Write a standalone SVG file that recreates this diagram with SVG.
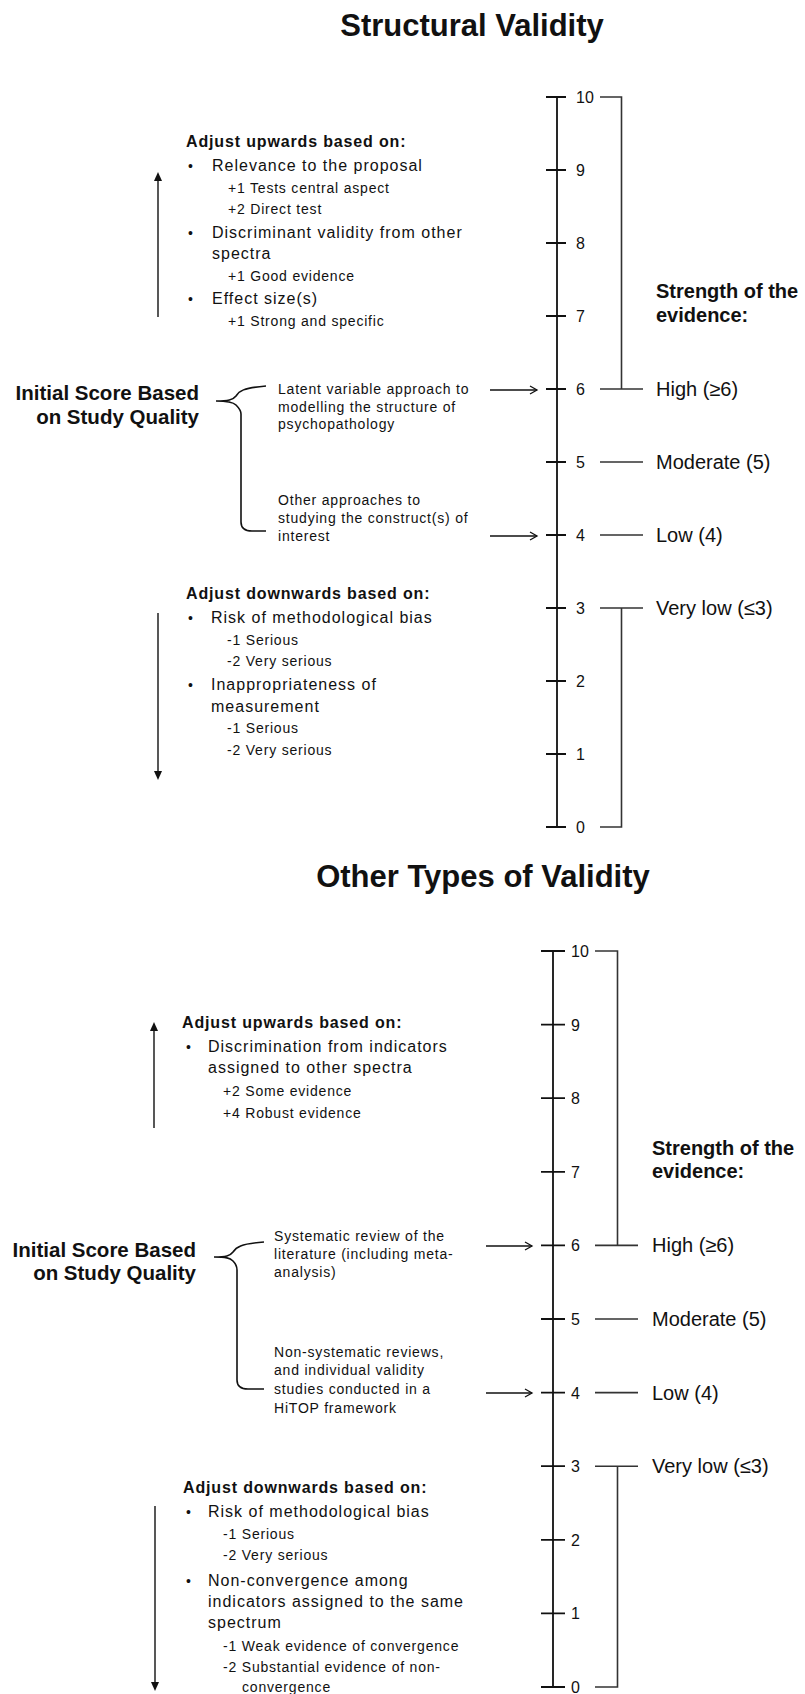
<svg xmlns="http://www.w3.org/2000/svg" width="805" height="1694" viewBox="0 0 805 1694">
<style>
text{font-family:"Liberation Sans",Arial,sans-serif;fill:#111}
.title{font-size:31px;font-weight:bold;text-anchor:middle}
.h{font-size:16px;font-weight:bold;letter-spacing:0.85px}
.b{font-size:16px;letter-spacing:1px}
.s{font-size:14px;letter-spacing:0.8px}
.m{font-size:14px;letter-spacing:0.8px}
.bul{font-size:14px}
.init{font-size:20.5px;font-weight:bold;text-anchor:end}
.num{font-size:16px}
.lvl{font-size:20px}
.str{font-size:20px;font-weight:bold}
.axis{stroke:#111;stroke-width:1.8;fill:none}
.br{stroke:#333;stroke-width:1.6;fill:none}
.conn{stroke:#111;stroke-width:1.4;fill:none}
.brace{stroke:#111;stroke-width:1.6;fill:none}
</style>
<defs>
<marker id="open" markerWidth="10" markerHeight="10" refX="8" refY="5" orient="auto" markerUnits="userSpaceOnUse">
<path d="M1,1 L8,5 L1,9" stroke="#111" stroke-width="1.3" fill="none"/>
</marker>
<marker id="solid" markerWidth="10" markerHeight="10" refX="5" refY="5" orient="auto" markerUnits="userSpaceOnUse">
<path d="M0,1 L9,5 L0,9 Z" fill="#111"/>
</marker>
</defs>

<!-- ===== Section 1: Structural Validity ===== -->
<g id="title1"><text class="title" x="472" y="36">Structural Validity</text></g>

<g id="scale1">
<path class="axis" d="M557,97 V827 M546,97 H566 M546,170 H566 M546,243 H566 M546,316 H566 M546,389 H566 M546,462 H566 M546,535 H566 M546,608 H566 M546,681 H566 M546,754 H566 M546,827 H566"/>
<text class="num" x="576" y="103">10</text>
<text class="num" x="576" y="176">9</text>
<text class="num" x="576" y="249">8</text>
<text class="num" x="576" y="322">7</text>
<text class="num" x="576" y="395">6</text>
<text class="num" x="576" y="468">5</text>
<text class="num" x="576" y="541">4</text>
<text class="num" x="576" y="614">3</text>
<text class="num" x="576" y="687">2</text>
<text class="num" x="576" y="760">1</text>
<text class="num" x="576" y="833">0</text>
</g>

<g id="levels1">
<path class="br" d="M600,97 H621.5 V389 M600,389 H643 M600,462 H643 M600,535 H643 M600,608 H643 M621.5,608 V827 H600"/>
<text class="str" x="656" y="298">Strength of the</text>
<text class="str" x="656" y="322">evidence:</text>
<text class="lvl" x="656" y="396">High (≥6)</text>
<text class="lvl" x="656" y="469">Moderate (5)</text>
<text class="lvl" x="656" y="542">Low (4)</text>
<text class="lvl" x="656" y="615">Very low (≤3)</text>
</g>

<g id="up1">
<text class="h" x="186" y="147">Adjust upwards based on:</text>
<text class="bul" x="188" y="171">•</text>
<text class="b" x="212" y="171">Relevance to the proposal</text>
<text class="s" x="228" y="193">+1 Tests central aspect</text>
<text class="s" x="228" y="214">+2 Direct test</text>
<text class="bul" x="188" y="238">•</text>
<text class="b" x="212" y="238">Discriminant validity from other</text>
<text class="b" x="212" y="259">spectra</text>
<text class="s" x="228" y="281">+1 Good evidence</text>
<text class="bul" x="188" y="304">•</text>
<text class="b" x="212" y="304">Effect size(s)</text>
<text class="s" x="228" y="326">+1 Strong and specific</text>
</g>

<g id="initial1">
<text class="init" x="199" y="400">Initial Score Based</text>
<text class="init" x="199" y="424">on Study Quality</text>
<path class="brace" d="M216,401 C228,401 233,400 236,396 C239,391 243,388 266,386 M216,401 C228,401 233,402 236,405 C239,408 241,410 241,414 V522 C241,528 244,531 252,531 H266"/>
</g>

<g id="opt1a">
<text class="m" x="278" y="394">Latent variable approach to</text>
<text class="m" x="278" y="412">modelling the structure of</text>
<text class="m" x="278" y="429">psychopathology</text>
</g>
<g id="opt1b">
<text class="m" x="278" y="505">Other approaches to</text>
<text class="m" x="278" y="523">studying the construct(s) of</text>
<text class="m" x="278" y="541">interest</text>
</g>

<g id="down1">
<text class="h" x="186" y="599">Adjust downwards based on:</text>
<text class="bul" x="188" y="623">•</text>
<text class="b" x="211" y="623">Risk of methodological bias</text>
<text class="s" x="227" y="645">-1 Serious</text>
<text class="s" x="227" y="666">-2 Very serious</text>
<text class="bul" x="188" y="690">•</text>
<text class="b" x="211" y="690">Inappropriateness of</text>
<text class="b" x="211" y="712">measurement</text>
<text class="s" x="227" y="733">-1 Serious</text>
<text class="s" x="227" y="755">-2 Very serious</text>
</g>

<!-- ===== Section 2: Other Types of Validity ===== -->
<g id="title2"><text class="title" x="483" y="887">Other Types of Validity</text></g>

<g id="scale2">
<path class="axis" d="M553,951 V1687 M541,951 H565 M541,1024.6 H565 M541,1098.2 H565 M541,1171.8 H565 M541,1245.4 H565 M541,1319 H565 M541,1392.6 H565 M541,1466.2 H565 M541,1539.8 H565 M541,1613.4 H565 M541,1687 H565"/>
<text class="num" x="571" y="957">10</text>
<text class="num" x="571" y="1030.6">9</text>
<text class="num" x="571" y="1104.2">8</text>
<text class="num" x="571" y="1177.8">7</text>
<text class="num" x="571" y="1251.4">6</text>
<text class="num" x="571" y="1325">5</text>
<text class="num" x="571" y="1398.6">4</text>
<text class="num" x="571" y="1472.2">3</text>
<text class="num" x="571" y="1545.8">2</text>
<text class="num" x="571" y="1619.4">1</text>
<text class="num" x="571" y="1693">0</text>
</g>

<g id="levels2">
<path class="br" d="M595,951 H617.5 V1245.4 M595,1245.4 H638 M595,1319 H638 M595,1392.6 H638 M595,1466.2 H638 M617.5,1466.2 V1687 H595"/>
<text class="str" x="652" y="1155">Strength of the</text>
<text class="str" x="652" y="1178">evidence:</text>
<text class="lvl" x="652" y="1252.4">High (≥6)</text>
<text class="lvl" x="652" y="1326">Moderate (5)</text>
<text class="lvl" x="652" y="1399.6">Low (4)</text>
<text class="lvl" x="652" y="1473.2">Very low (≤3)</text>
</g>

<g id="up2">
<text class="h" x="182" y="1028">Adjust upwards based on:</text>
<text class="bul" x="186" y="1052">•</text>
<text class="b" x="208" y="1052">Discrimination from indicators</text>
<text class="b" x="208" y="1073">assigned to other spectra</text>
<text class="s" x="223" y="1096">+2 Some evidence</text>
<text class="s" x="223" y="1118">+4 Robust evidence</text>
</g>

<g id="initial2">
<text class="init" x="196" y="1257">Initial Score Based</text>
<text class="init" x="196" y="1280">on Study Quality</text>
<path class="brace" d="M214,1257 C226,1257 230,1256 233,1252 C236,1247 240,1244 264,1242 M214,1257 C226,1257 230,1258 233,1261 C236,1264 237,1266 237,1270 V1380 C237,1386 240,1389 248,1389 H264"/>
</g>

<g id="opt2a">
<text class="m" x="274" y="1241">Systematic review of the</text>
<text class="m" x="274" y="1259">literature (including meta-</text>
<text class="m" x="274" y="1277">analysis)</text>
</g>
<g id="opt2b">
<text class="m" x="274" y="1357">Non-systematic reviews,</text>
<text class="m" x="274" y="1375">and individual validity</text>
<text class="m" x="274" y="1394">studies conducted in a</text>
<text class="m" x="274" y="1413">HiTOP framework</text>
</g>

<g id="down2">
<text class="h" x="183" y="1493">Adjust downwards based on:</text>
<text class="bul" x="186" y="1517">•</text>
<text class="b" x="208" y="1517">Risk of methodological bias</text>
<text class="s" x="223" y="1539">-1 Serious</text>
<text class="s" x="223" y="1560">-2 Very serious</text>
<text class="bul" x="186" y="1586">•</text>
<text class="b" x="208" y="1586">Non-convergence among</text>
<text class="b" x="208" y="1607">indicators assigned to the same</text>
<text class="b" x="208" y="1628">spectrum</text>
<text class="s" x="223" y="1651">-1 Weak evidence of convergence</text>
<text class="s" x="223" y="1672">-2 Substantial evidence of non-</text>
<text class="s" x="242" y="1692">convergence</text>
</g>

<!-- ===== Connectors ===== -->
<g id="connectors">
<line class="conn" x1="158" y1="317" x2="158" y2="176" marker-end="url(#solid)"/>
<line class="conn" x1="158" y1="613" x2="158" y2="776" marker-end="url(#solid)"/>
<line class="conn" x1="490" y1="390" x2="537" y2="390" marker-end="url(#open)"/>
<line class="conn" x1="490" y1="536" x2="537" y2="536" marker-end="url(#open)"/>
<line class="conn" x1="154" y1="1128" x2="154" y2="1026" marker-end="url(#solid)"/>
<line class="conn" x1="155" y1="1506" x2="155" y2="1687" marker-end="url(#solid)"/>
<line class="conn" x1="486" y1="1246" x2="532" y2="1246" marker-end="url(#open)"/>
<line class="conn" x1="486" y1="1393" x2="532" y2="1393" marker-end="url(#open)"/>
</g>
</svg>
